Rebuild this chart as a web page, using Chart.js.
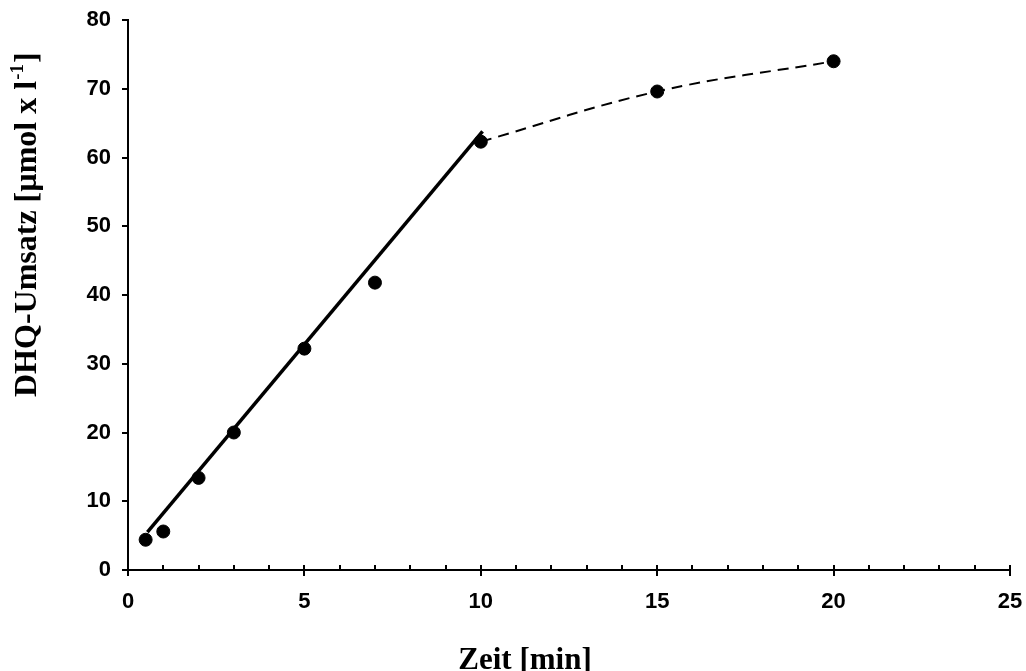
<!DOCTYPE html>
<html>
<head>
<meta charset="utf-8">
<script src="https://cdn.jsdelivr.net/npm/chart.js@4.4.1/dist/chart.umd.min.js"></script>
<style>
  html, body { margin: 0; padding: 0; background: #fff; }
  #wrap { width: 1026px; height: 671px; }
</style>
</head>
<body>
<div id="wrap"><canvas id="dhqChart" width="1026" height="671"></canvas></div>
<script>
// measured values (time in min, DHQ conversion in µmol/l)
var timeMin = [0.5, 1, 2, 3, 5, 7, 10, 15, 20];
var conversion = [4.4, 5.6, 13.4, 20.0, 32.2, 41.8, 62.3, 69.6, 74.0];

// linear fit over the initial phase
var fitX = [0.55, 10.05];
var fitY = [5.5, 63.8];

// smoothed dashed curve for the plateau phase
var curveX = [10, 15, 20];
var curveY = [62.3, 69.6, 74.0];

var xTicks = [0, 5, 10, 15, 20, 25];
var yTicks = [0, 10, 20, 30, 40, 50, 60, 70, 80];

function toPoints(xs, ys) {
    return xs.map(function (x, i) { return { x: x, y: ys[i] }; });
}

// extra drawing: inner x ticks and the axis titles
var extras = {
    id: 'extras',
    afterDraw: function (chart) {
        var ctx = chart.ctx;
        var xs = chart.scales.x;
        var axisY = chart.chartArea.bottom;
        ctx.save();
        ctx.strokeStyle = '#000';
        ctx.lineWidth = 2;
        for (var v = 1; v <= 25; v++) {
            var px = Math.round(xs.getPixelForValue(v));
            ctx.beginPath();
            ctx.moveTo(px, axisY);
            ctx.lineTo(px, axisY - 5);
            ctx.stroke();
        }

        ctx.fillStyle = '#000';
        ctx.font = 'bold 31px "Liberation Serif", "Times New Roman", serif';
        ctx.textAlign = 'center';
        ctx.textBaseline = 'alphabetic';
        ctx.fillText('Zeit [min]', 525, 669);

        // rotated y title with superscript
        ctx.translate(36, 397);
        ctx.rotate(-Math.PI / 2);
        ctx.textAlign = 'left';
        var big = 'bold 32px "Liberation Serif", "Times New Roman", serif';
        var small = 'bold 19px "Liberation Serif", "Times New Roman", serif';
        var pos = 0;
        ctx.font = big;
        var t1 = 'DHQ-Umsatz [µmol x l';
        ctx.fillText(t1, pos, 0);
        pos += ctx.measureText(t1).width;
        ctx.font = small;
        ctx.fillText('-1', pos + 1, -13);
        pos += ctx.measureText('-1').width + 2;
        ctx.font = big;
        ctx.fillText(']', pos, 0);
        ctx.restore();
    }
};

var ctx = document.getElementById('dhqChart').getContext('2d');
var dhqChart = new Chart(ctx, {
    type: 'scatter',
    data: {
        datasets: [{
            label: 'Messwerte',
            data: toPoints(timeMin, conversion),
            backgroundColor: '#000',
            borderColor: '#000',
            pointRadius: 6.5,
            order: 0
        }, {
            label: 'Lineare Anpassung',
            data: toPoints(fitX, fitY),
            showLine: true,
            borderColor: '#000',
            borderWidth: 3.5,
            pointRadius: 0,
            order: 1
        }, {
            label: 'Verlauf',
            data: toPoints(curveX, curveY),
            showLine: true,
            borderColor: '#000',
            borderWidth: 2,
            borderDash: [11, 7],
            tension: 0.4,
            pointRadius: 0,
            order: 2
        }]
    },
    options: {
        responsive: false,
        animation: false,
        layout: { padding: { top: 20, right: 16, left: 0, bottom: 0 } },
        plugins: {
            legend: { display: false },
            tooltip: { enabled: false }
        },
        scales: {
            x: {
                type: 'linear',
                min: 0,
                max: 25,
                afterFit: function (scale) {
                    scale.height = 101;
                    scale.paddingLeft = 0;
                    scale.paddingRight = 0;
                },
                ticks: {
                    stepSize: 1,
                    autoSkip: false,
                    maxRotation: 0,
                    padding: 13,
                    color: '#000',
                    font: { family: '"Liberation Sans", Arial, sans-serif', size: 22, weight: 'bold' },
                    callback: function (v) { return xTicks.indexOf(v) >= 0 ? String(v) : ''; }
                },
                grid: {
                    drawOnChartArea: false,
                    drawTicks: true,
                    tickLength: 6,
                    lineWidth: 2,
                    color: function (c) {
                        return c.tick && xTicks.indexOf(c.tick.value) >= 0 ? '#000' : 'rgba(0,0,0,0)';
                    }
                },
                border: { display: true, color: '#000', width: 2 }
            },
            y: {
                min: 0,
                max: 80,
                afterFit: function (scale) {
                    scale.width = 128;
                    scale.paddingTop = 0;
                    scale.paddingBottom = 0;
                },
                afterBuildTicks: function (scale) {
                    scale.ticks = yTicks.map(function (v) { return { value: v }; });
                },
                ticks: {
                    padding: 11,
                    color: '#000',
                    font: { family: '"Liberation Sans", Arial, sans-serif', size: 22, weight: 'bold' }
                },
                grid: {
                    drawOnChartArea: false,
                    drawTicks: true,
                    tickLength: 6,
                    lineWidth: 2,
                    color: '#000'
                },
                border: { display: true, color: '#000', width: 2 }
            }
        }
    },
    plugins: [extras]
});
</script>
</body>
</html>
